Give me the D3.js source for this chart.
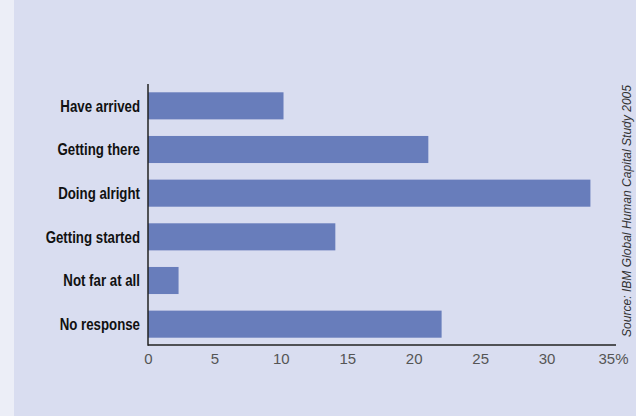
<!DOCTYPE html>
<html>
<head>
<meta charset="utf-8">
<script src="https://cdn.jsdelivr.net/npm/d3@7"></script>
<style>
  html, body { margin: 0; padding: 0; background: #d9ddf0; }
  svg { display: block; }
</style>
</head>
<body>
<svg id="chart" width="636" height="416"></svg>
<script>
// Survey responses: how far along are organisations (% of respondents)
const categories = ["Have arrived", "Getting there", "Doing alright", "Getting started", "Not far at all", "No response"];
const values = [10.2, 21.1, 33.3, 14.1, 2.3, 22.1];
const tickValues = [0, 5, 10, 15, 20, 25, 30, 35];
const sourceText = "Source: IBM Global Human Capital Study 2005";

const svg = d3.select("#chart");
const W = 636, H = 416;

svg.append("rect").attr("width", W).attr("height", H).attr("fill", "#d9ddf0");
svg.append("rect").attr("width", 14).attr("height", H).attr("fill", "#eceef7");

const x = d3.scaleLinear().domain([0, 35]).range([148, 613]);
const y = d3.scaleBand().domain(categories).range([84, 346])
  .paddingInner(0.38).paddingOuter(0.19);

const sans = "'Liberation Sans', Arial, Helvetica, sans-serif";

svg.append("g").selectAll("rect")
  .data(categories)
  .join("rect")
  .attr("x", x(0))
  .attr("y", d => y(d))
  .attr("width", (d, i) => x(values[i]) - x(0))
  .attr("height", y.bandwidth())
  .attr("fill", "#687dbb");

// Category labels, set in a condensed bold face (horizontally compressed)
const labelScale = 0.83;
svg.append("g")
  .attr("transform", `translate(140,0) scale(${labelScale},1)`)
  .selectAll("text")
  .data(categories)
  .join("text")
  .attr("x", 0)
  .attr("y", d => y(d) + y.bandwidth() / 2)
  .attr("dy", "0.36em")
  .attr("text-anchor", "end")
  .attr("font-family", sans)
  .attr("font-weight", "bold")
  .attr("font-size", 16)
  .attr("fill", "#111")
  .text(d => d);

// X axis
const xAxis = d3.axisBottom(x)
  .tickValues(tickValues)
  .tickSize(0)
  .tickPadding(8)
  .tickFormat(d => d === 35 ? "35%" : String(d));

const gx = svg.append("g").attr("transform", "translate(0,345)").call(xAxis);
gx.select(".domain").remove();
gx.selectAll("text")
  .attr("font-family", sans)
  .attr("font-size", 15)
  .attr("fill", "#555");

svg.append("line")
  .attr("x1", x(0)).attr("x2", 616)
  .attr("y1", 345).attr("y2", 345)
  .attr("stroke", "#222").attr("stroke-width", 1.5);

svg.append("line")
  .attr("x1", x(0)).attr("x2", x(0))
  .attr("y1", 84).attr("y2", 345.75)
  .attr("stroke", "#222").attr("stroke-width", 1.5);

// Source note, condensed italic running up the right edge
svg.append("text")
  .attr("transform", "translate(631,85) rotate(-90)")
  .attr("text-anchor", "end")
  .attr("font-family", sans)
  .attr("font-style", "italic")
  .attr("font-size", 13)
  .attr("textLength", 252)
  .attr("lengthAdjust", "spacingAndGlyphs")
  .attr("fill", "#333")
  .text(sourceText);
</script>
</body>
</html>
